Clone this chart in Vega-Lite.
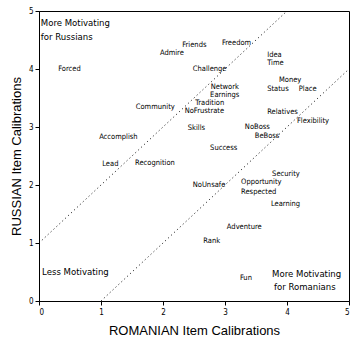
{
  "$schema": "https://vega.github.io/schema/vega-lite/v6.json",
  "width": 310,
  "height": 290,
  "autosize": {"type": "none"},
  "padding": {"left": 39, "top": 11, "right": 13, "bottom": 53},
  "background": "white",
  "config": {
    "view": {"stroke": "black", "strokeWidth": 1},
    "font": "DejaVu Sans Condensed, Liberation Sans, sans-serif",
    "axis": {"grid": false, "domainColor": "black", "tickColor": "black", "labelColor": "black", "titleColor": "black", "labelFont": "DejaVu Sans Condensed, Liberation Sans, sans-serif", "titleFont": "Liberation Sans, sans-serif", "titleFontWeight": "normal", "labelFontSize": 8, "titleFontSize": 13, "tickSize": 4, "format": "d"}
  },
  "datasets": {
    "items": [
      {"label": "Forced", "romanian": 0.31, "russian": 4.0},
      {"label": "Admire", "romanian": 1.95, "russian": 4.28},
      {"label": "Friends", "romanian": 2.31, "russian": 4.41},
      {"label": "Freedom", "romanian": 2.95, "russian": 4.45},
      {"label": "Challenge", "romanian": 2.48, "russian": 4.0},
      {"label": "Network", "romanian": 2.77, "russian": 3.69},
      {"label": "Earnings", "romanian": 2.76, "russian": 3.56},
      {"label": "Tradition", "romanian": 2.52, "russian": 3.41},
      {"label": "NoFrustrate", "romanian": 2.35, "russian": 3.28},
      {"label": "Community", "romanian": 1.56, "russian": 3.35},
      {"label": "Skills", "romanian": 2.4, "russian": 2.98},
      {"label": "Success", "romanian": 2.76, "russian": 2.64},
      {"label": "Accomplish", "romanian": 0.97, "russian": 2.83},
      {"label": "Lead", "romanian": 1.02, "russian": 2.36},
      {"label": "Recognition", "romanian": 1.55, "russian": 2.38},
      {"label": "Idea", "romanian": 3.68, "russian": 4.24},
      {"label": "Time", "romanian": 3.68, "russian": 4.1},
      {"label": "Money", "romanian": 3.87, "russian": 3.81},
      {"label": "Status", "romanian": 3.68, "russian": 3.66},
      {"label": "Place", "romanian": 4.19, "russian": 3.66},
      {"label": "Relatives", "romanian": 3.68, "russian": 3.26},
      {"label": "Flexibility", "romanian": 4.16, "russian": 3.1},
      {"label": "NoBoss", "romanian": 3.32, "russian": 3.0},
      {"label": "BeBoss", "romanian": 3.48, "russian": 2.84},
      {"label": "Security", "romanian": 3.76, "russian": 2.19},
      {"label": "Opportunity", "romanian": 3.26, "russian": 2.05},
      {"label": "Respected", "romanian": 3.26, "russian": 1.88},
      {"label": "Learning", "romanian": 3.74, "russian": 1.67},
      {"label": "NoUnsafe", "romanian": 2.48, "russian": 2.0},
      {"label": "Adventure", "romanian": 3.03, "russian": 1.28},
      {"label": "Rank", "romanian": 2.65, "russian": 1.03},
      {"label": "Fun", "romanian": 3.24, "russian": 0.4}
    ],
    "notes": [
      {"label": "More Motivating", "romanian": 0.03, "russian": 4.79},
      {"label": "for Russians", "romanian": 0.03, "russian": 4.55},
      {"label": "Less Motivating", "romanian": 0.05, "russian": 0.5},
      {"label": "More Motivating", "romanian": 3.76, "russian": 0.47},
      {"label": "for Romanians", "romanian": 3.79, "russian": 0.24}
    ],
    "lines": [
      {"x": 0, "y": 1, "x2": 4, "y2": 5},
      {"x": 1, "y": 0, "x2": 5, "y2": 4}
    ]
  },
  "layer": [
    {
      "data": {"name": "lines"},
      "mark": {"type": "rule", "strokeDash": [1, 3], "color": "black", "strokeWidth": 1},
      "encoding": {
        "x": {"field": "x", "type": "quantitative", "scale": {"domain": [0, 5]}, "axis": {"values": [0, 1, 2, 3, 4, 5], "title": "ROMANIAN Item Calibrations", "titlePadding": 8, "labelPadding": 3}},
        "y": {"field": "y", "type": "quantitative", "scale": {"domain": [0, 5]}, "axis": {"values": [0, 1, 2, 3, 4, 5], "title": "RUSSIAN Item Calibrations", "titlePadding": 5, "labelPadding": 2}},
        "x2": {"field": "x2"},
        "y2": {"field": "y2"}
      }
    },
    {
      "data": {"name": "items"},
      "mark": {"type": "text", "align": "left", "baseline": "middle", "fontSize": 7.5, "fill": "black"},
      "encoding": {
        "x": {"field": "romanian", "type": "quantitative"},
        "y": {"field": "russian", "type": "quantitative"},
        "text": {"field": "label"}
      }
    },
    {
      "data": {"name": "notes"},
      "mark": {"type": "text", "align": "left", "baseline": "middle", "fontSize": 9.5, "fill": "black"},
      "encoding": {
        "x": {"field": "romanian", "type": "quantitative"},
        "y": {"field": "russian", "type": "quantitative"},
        "text": {"field": "label"}
      }
    }
  ]
}
